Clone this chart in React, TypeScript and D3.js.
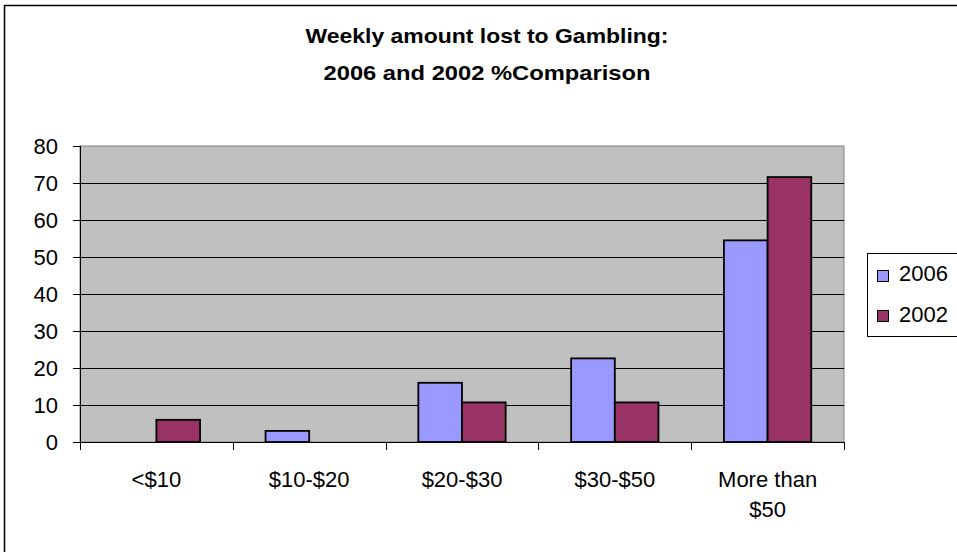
import React from "react";
import * as d3 from "d3";

const categories = ["<$10", "$10-$20", "$20-$30", "$30-$50", "More than\n$50"];
const seriesNames = ["2006", "2002"];
const values2006 = [0, 3, 16, 22.6, 54.5];
const values2002 = [6, 0, 10.7, 10.7, 71.6];
const yTicks = [0, 10, 20, 30, 40, 50, 60, 70, 80];
const titleLines = ["Weekly amount lost to Gambling:", "2006 and 2002 %Comparison"];
const colors = ["#9999FF", "#993366"];

export default function App() {
  const W = 957, H = 552;
  const plotL = 80, plotR = 844, plotT = 146, plotB = 442;
  const x = d3.scaleBand<string>().domain(categories).range([plotL, plotR]).paddingInner(0).paddingOuter(0);
  const y = d3.scaleLinear().domain([0, 80]).range([plotB, plotT]);
  const bw = x.bandwidth();
  const barW = bw / 3.5;
  const series = [values2006, values2002];
  const font = "'Liberation Sans', Arial, sans-serif";
  const fs = 22;

  return (
    <svg width={W} height={H} style={{ position: "absolute", left: 0, top: 0, background: "#fff" }} fontFamily={font}>
      <rect x={4.5} y={5.5} width={1000} height={1000} fill="#fff" stroke="#000" strokeWidth={1.5} />
      {titleLines.map((t, i) => (
        <text key={i} x={487} y={43 + i * 37} textAnchor="middle" fontWeight="bold" fontSize={21} fill="#000"
          textLength={i === 0 ? 363 : 327} lengthAdjust="spacingAndGlyphs">{t}</text>
      ))}
      <rect x={plotL} y={plotT} width={plotR - plotL} height={plotB - plotT} fill="#C0C0C0" stroke="#808080" strokeWidth={1} />
      {yTicks.filter(v => v > 0 && v < 80).map(v => (
        <line key={v} x1={plotL} x2={plotR} y1={Math.round(y(v)) + 0.5} y2={Math.round(y(v)) + 0.5} stroke="#000" strokeWidth={1} />
      ))}
      {categories.map((c, ci) => series.map((s, si) => {
        const v = s[ci];
        if (v <= 0) return null;
        const left = (x(c) as number) + (bw - 2 * barW) / 2 + si * barW;
        return (
          <rect key={ci + "-" + si} x={left} y={y(v)} width={barW} height={plotB - y(v)} fill={colors[si]} stroke="#000" strokeWidth={1.8} />
        );
      }))}
      <line x1={plotL + 0.5} x2={plotL + 0.5} y1={plotT} y2={plotB} stroke="#000" strokeWidth={1} />
      <line x1={plotL} x2={plotR} y1={plotB + 0.5} y2={plotB + 0.5} stroke="#000" strokeWidth={1} />
      {yTicks.map(v => (
        <g key={v}>
          <line x1={plotL - 7} x2={plotL} y1={Math.round(y(v)) + 0.5} y2={Math.round(y(v)) + 0.5} stroke="#000" />
          <text x={58} y={y(v) + 8} textAnchor="end" fontSize={fs} fill="#000">{v}</text>
        </g>
      ))}
      {[...categories.map(c => x(c) as number), plotR].map((px, i) => (
        <line key={i} x1={Math.round(px) + 0.5} x2={Math.round(px) + 0.5} y1={plotB} y2={plotB + 8} stroke="#000" />
      ))}
      {categories.map(c => c.split("\n").map((ln, li) => (
        <text key={c + li} x={(x(c) as number) + bw / 2} y={486.5 + li * 30} textAnchor="middle" fontSize={fs} fill="#000">{ln}</text>
      )))}
      <rect x={867.5} y={253.5} width={120} height={83} fill="#fff" stroke="#000" strokeWidth={1} />
      {seriesNames.map((n, i) => (
        <g key={n}>
          <rect x={877.5} y={270.5 + i * 40} width={11} height={11} fill={colors[i]} stroke="#000" strokeWidth={1} />
          <text x={899} y={281 + i * 40.5} fontSize={fs} fill="#000">{n}</text>
        </g>
      ))}
    </svg>
  );
}
